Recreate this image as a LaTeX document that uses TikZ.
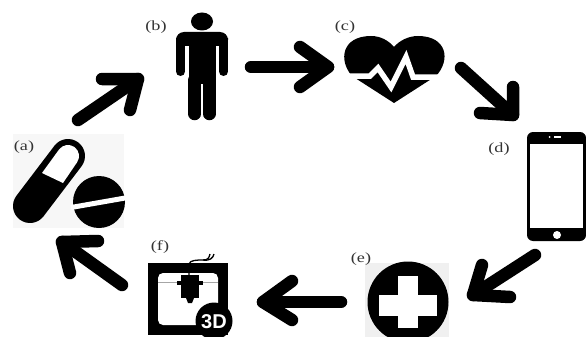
\documentclass[tikz,border=0pt]{standalone}
\usepackage{fontspec}
\usetikzlibrary{calc}
\setmainfont{Liberation Serif}
\newfontfamily\threed{Liberation Sans}
\newfontfamily\labfont[FakeStretch=1.3]{Liberation Serif}
\begin{document}
\begin{tikzpicture}[x=1pt,y=-1pt,
  flow/.style={line width=12.5pt,line cap=round,line join=round,black},
  tag/.style={font=\labfont\fontsize{14}{14}\selectfont,text=black!80,inner sep=0pt,anchor=center},
  ink/.style={fill=black,draw=none},
  paper/.style={fill=white,draw=none}]
\useasboundingbox (0,0) rectangle (586,337);
\fill[white] (0,0) rectangle (586,337);
% light backgrounds
\fill[black!3] (13,134) rectangle (124,228);
\fill[black!6] (365,263) rectangle (449,337);
% (a) pills
\draw[line width=34pt,line cap=round,black] (30,206) -- (68,156);
\fill[paper] (42,173) -- (59.2,149.3) .. controls (62.9,144.5) and (69.9,143.5) .. (74.7,147.2)
  .. controls (79.5,150.9) and (80.5,157.9) .. (76.8,162.7) -- (63,183) -- cycle;
\fill[ink] (99,202) circle[radius=26];
\draw[white,line width=5pt] (71,207.5) -- (128,197.5);
% (b) person
\fill[ink] (202,21.5) ellipse[x radius=11,y radius=9];
\fill[ink,rounded corners=8pt] (176,46) -- (176,32) -- (228,32) -- (228,46) -- cycle;
\draw[line width=9pt,line cap=round] (180.5,40) -- (180.5,71.5);
\draw[line width=9pt,line cap=round] (223.5,40) -- (223.5,71.5);
\fill[ink] (188.5,32) rectangle (215.5,84);
\draw[line width=12.5pt,line cap=round] (194.7,80) -- (194.7,114);
\draw[line width=12.5pt,line cap=round] (209.3,80) -- (209.3,114);
% (c) heart
\fill[ink] (394,103) -- (352,76) .. controls (338,60) and (342,36) .. (371,36)
  .. controls (381,36) and (389,41) .. (394,47)
  .. controls (399,41) and (408,36) .. (418,36)
  .. controls (447,36) and (451,60) .. (436,76) -- cycle;
\draw[white,line width=5.5pt,line join=miter] (340,76) -- (370,76) -- (378,68) -- (391,87) -- (406,57) -- (413,77) -- (448,77);
% (d) phone
\fill[ink,rounded corners=6pt] (527,132) rectangle (586,241);
\fill[paper] (530,144) rectangle (583,228);
\fill[paper] (557,235) circle[radius=4];
\fill[paper] (549.5,137) circle[radius=1];
\fill[paper] (554,136.3) rectangle (561,137.7);
% (e) cross
\fill[ink] (408,302) circle[radius=40.5];
\fill[paper] (398,276) rectangle (418,328);
\fill[paper] (379,295) rectangle (437,316);
\fill[black!6] (360,337) rectangle (455,345);
% (f) printer
\fill[ink] (148,263) rectangle (228,335);
\fill[paper,rounded corners=5pt] (158,273) rectangle (218,325);
\fill[black!35] (158,282) rectangle (218,283);
\fill[ink] (181,275) rectangle (199,298);
\fill[ink] (177,281) rectangle (203,285);
\fill[ink] (186,298) -- (194,298) -- (192,303) -- (188,303) -- cycle;
\draw[line width=1.3pt] (189,275) -- (189,264) .. controls (190,260) and (197,260) .. (203,260)
  .. controls (208,260) and (209,258) .. (210,254);
\draw[line width=1.3pt] (203,260) .. controls (210,261) and (213,258) .. (214,254);
\fill[ink] (214,321) circle[radius=18.5];
\node[font=\threed\bfseries\fontsize{20}{20}\selectfont,text=white,inner sep=0pt] (threeD) at (214,322) {3D};
% labels
\node[tag] (la) at (24,147) {(a)};
\node[tag] (lb) at (156,27) {(b)};
\node[tag] (lc) at (345,27) {(c)};
\node[tag] (ld) at (499,149) {(d)};
\node[tag] (le) at (361,259) {(e)};
\node[tag] (lf) at (160,247) {(f)};
% arrows
\coordinate (a1s) at (78,120); \coordinate (a1t) at (138,79); \coordinate (a1u) at (102,79); \coordinate (a1v) at (130,110);
\coordinate (a2s) at (251,67); \coordinate (a2t) at (328,67); \coordinate (a2u) at (300,47); \coordinate (a2v) at (300,87);
\coordinate (a3s) at (461,68); \coordinate (a3t) at (513,115); \coordinate (a3u) at (513,87); \coordinate (a3v) at (480,113);
\coordinate (a4s) at (535,255); \coordinate (a4t) at (473,295); \coordinate (a4u) at (482,265); \coordinate (a4v) at (510,297);
\coordinate (a5s) at (341,302); \coordinate (a5t) at (263,302); \coordinate (a5u) at (292,281); \coordinate (a5v) at (292,320);
\coordinate (a6s) at (122,285); \coordinate (a6t) at (62,242); \coordinate (a6u) at (98,241); \coordinate (a6v) at (70,273);
\foreach \k in {1,...,6}{
  \draw[flow] (a\k s) -- (a\k t);
  \draw[flow] (a\k u) -- (a\k t) -- (a\k v);
  \fill[black] ($(a\k t)!0.45!(a\k u)$) -- (a\k t) -- ($(a\k t)!0.45!(a\k v)$) -- cycle;
}
\end{tikzpicture}
\end{document}
